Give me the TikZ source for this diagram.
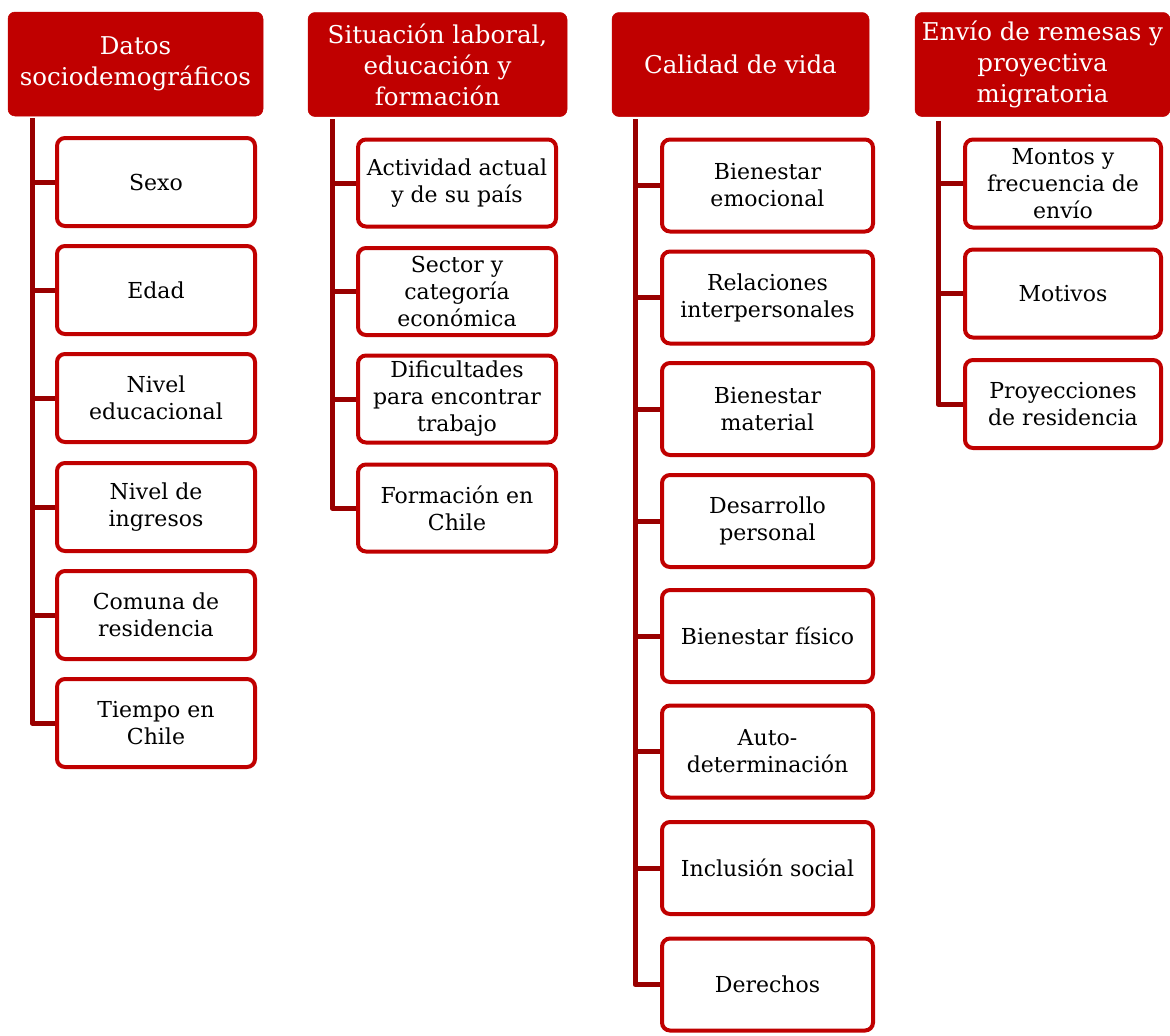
\documentclass[tikz,border=0pt]{standalone}
\usepackage{fontspec}
\setmainfont{DejaVu Serif}
\definecolor{hdr}{HTML}{C00000}
\definecolor{lin}{HTML}{990000}
\begin{document}
\begin{tikzpicture}[x=1pt,y=-1pt,
  head/.style={rectangle,rounded corners=7pt,fill=hdr,draw=hdr,line width=0.5pt,text=white,align=center,
    font=\fontsize{24.5}{31}\selectfont,inner sep=0pt,minimum height=104pt},
  item/.style={rectangle,rounded corners=8pt,draw=hdr,line width=4pt,fill=white,text=black,align=center,
    font=\fontsize{22}{27}\selectfont,inner sep=0pt},
  conn/.style={draw=lin,line width=5pt,line join=round}]
\useasboundingbox (0,0) rectangle (1170,1036);
% headers
\node[head,minimum width=255pt] (h1) at (135.5,64) {Datos\\sociodemográficos};
\node[head,minimum width=259pt] (h2) at (437.5,64.5) {Situación laboral,\\educación y\\formación};
\node[head,minimum width=257pt] (h3) at (740.5,64.5) {Calidad de vida};
\node[head,minimum width=255pt] (h4) at (1042.5,64.5) {Envío de remesas y\\proyectiva\\migratoria};
% column 1
\begin{scope}[item/.append style={minimum width=198pt,minimum height=88pt}]
\node[item] (a1) at (156,182) {Sexo};
\node[item] (a2) at (156,290) {Edad};
\node[item] (a3) at (156,398) {Nivel\\educacional};
\node[item] (a4) at (156,507) {Nivel de\\ingresos};
\node[item] (a5) at (156,615) {Comuna de\\residencia};
\node[item] (a6) at (156,723) {Tiempo en\\Chile};
\end{scope}
% column 2
\begin{scope}[item/.append style={minimum width=198pt,minimum height=87pt}]
\node[item] (b1) at (457,183) {Actividad actual\\y de su país};
\node[item] (b2) at (457,291.5) {Sector y\\categoría\\económica};
\node[item] (b3) at (457,399) {Dificultades\\para encontrar\\trabajo};
\node[item] (b4) at (457,508) {Formación en\\Chile};
\end{scope}
% column 3
\begin{scope}[item/.append style={minimum width=211pt,minimum height=92pt}]
\node[item] (c1) at (767.5,185.5) {Bienestar\\emocional};
\node[item] (c2) at (767.5,297.5) {Relaciones\\interpersonales};
\node[item] (c3) at (767.5,409) {Bienestar\\material};
\node[item] (c4) at (767.5,521) {Desarrollo\\personal};
\node[item] (c5) at (767.5,636) {Bienestar físico};
\node[item] (c6) at (767.5,751.5) {Auto-\\determinación};
\node[item] (c7) at (767.5,868) {Inclusión social};
\node[item] (c8) at (767.5,984.5) {Derechos};
\end{scope}
% column 4
\begin{scope}[item/.append style={minimum width=196pt,minimum height=88pt}]
\node[item] (d1) at (1063,183.5) {Montos y\\frecuencia de\\envío};
\node[item] (d2) at (1063,293.5) {Motivos};
\node[item] (d3) at (1063,404) {Proyecciones\\de residencia};
\end{scope}
% trunk tops
\coordinate (t1) at (32,118);
\coordinate (t2) at (332,119);
\coordinate (t3) at (635,119);
\coordinate (t4) at (938,121);
% connectors
\draw[conn] (t1) |- (a6.west);
\foreach \n in {a1,a2,a3,a4,a5} \draw[conn] (t1 |- \n.west) -- (\n.west);
\draw[conn] (t2) |- (b4.west);
\foreach \n in {b1,b2,b3} \draw[conn] (t2 |- \n.west) -- (\n.west);
\draw[conn] (t3) |- (c8.west);
\foreach \n in {c1,c2,c3,c4,c5,c6,c7} \draw[conn] (t3 |- \n.west) -- (\n.west);
\draw[conn] (t4) |- (d3.west);
\foreach \n in {d1,d2} \draw[conn] (t4 |- \n.west) -- (\n.west);
\end{tikzpicture}
\end{document}
